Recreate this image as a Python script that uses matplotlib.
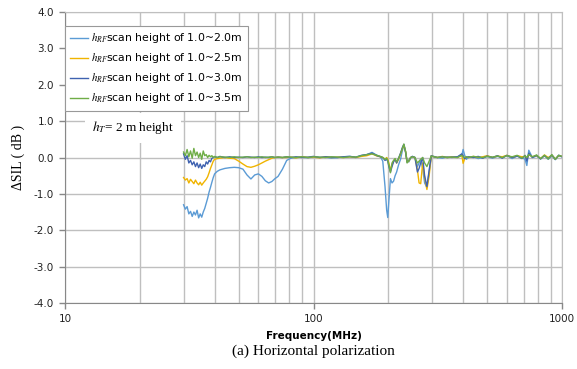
# Delta SIL vs frequency, horizontal polarization, four scan heights.
import matplotlib
matplotlib.use("Agg")
import matplotlib.pyplot as plt
from matplotlib.ticker import FixedLocator, NullFormatter

plt.rcParams['mathtext.fontset'] = 'stix'
plt.rcParams['font.family'] = 'DejaVu Sans'

freq = [30, 30.5, 31, 31.5, 32, 32.5, 33, 33.5, 34, 34.5,
        35, 35.5, 36, 36.5, 37, 37.5, 38, 38.5, 39, 39.5,
        40, 41, 42, 44, 46, 48, 50, 52, 54, 56,
        58, 60, 62, 64, 66, 68, 70, 72, 75, 78,
        81, 85, 90, 95, 100, 106, 112, 118, 125, 132,
        140, 148, 156, 164, 172, 180, 186, 190, 194, 197,
        199, 201, 204, 207, 210, 213, 216, 220, 224, 228,
        231, 235, 238, 242, 246, 250, 256, 262, 266, 270,
        275, 280, 286, 292, 298, 305, 315, 330, 345, 360,
        380, 395, 400, 405, 412, 420, 440, 460, 480, 500,
        525, 550, 575, 600, 630, 660, 690, 710, 722, 735,
        760, 790, 820, 850, 880, 910, 940, 970, 1000]

sil_20 = [-1.30, -1.42, -1.35, -1.55, -1.48, -1.62, -1.50, -1.58, -1.45, -1.66,
          -1.55, -1.64, -1.50, -1.40, -1.26, -1.12, -0.95, -0.82, -0.68, -0.55,
          -0.45, -0.38, -0.34, -0.30, -0.28, -0.27, -0.28, -0.32, -0.48, -0.59,
          -0.48, -0.45, -0.52, -0.64, -0.70, -0.66, -0.58, -0.52, -0.32, -0.08,
          -0.02, 0.00, 0.01, -0.01, 0.02, 0.00, 0.01, -0.02, 0.00, 0.02,
          0.03, 0.00, 0.05, 0.08, 0.14, 0.06, 0.02, -0.10, -0.80, -1.45,
          -1.65, -1.20, -0.58, -0.70, -0.65, -0.50, -0.40, -0.20, -0.05, 0.20,
          0.35, 0.15, -0.10, -0.12, -0.02, 0.03, 0.00, -0.25, -0.15, -0.05,
          -0.30, -0.70, -0.82, -0.40, 0.05, 0.03, 0.00, -0.02, 0.02, 0.00,
          0.02, 0.05, 0.22, 0.08, -0.05, 0.00, 0.02, -0.03, 0.00, 0.03,
          -0.02, 0.03, 0.00, 0.05, -0.03, 0.04, 0.00, -0.05, -0.22, 0.20,
          0.00, 0.04, -0.04, 0.06, -0.05, 0.05, -0.06, 0.06, 0.02]

sil_25 = [-0.55, -0.62, -0.58, -0.70, -0.60, -0.66, -0.72, -0.62, -0.70, -0.75,
          -0.68, -0.76, -0.70, -0.65, -0.60, -0.53, -0.42, -0.30, -0.20, -0.10,
          -0.05, -0.03, -0.02, 0.00, -0.02, -0.03, -0.10, -0.18, -0.25, -0.27,
          -0.24, -0.20, -0.15, -0.10, -0.06, -0.02, 0.00, 0.01, 0.00, 0.00,
          0.01, -0.01, 0.02, 0.00, 0.01, -0.01, 0.02, 0.00, 0.01, 0.00,
          0.02, 0.00, 0.03, 0.05, 0.10, 0.04, 0.02, 0.00, -0.05, 0.00,
          -0.05, -0.15, -0.35, -0.20, -0.10, -0.05, -0.15, -0.05, 0.10, 0.25,
          0.33, 0.15, -0.12, -0.10, 0.00, 0.02, 0.00, -0.35, -0.70, -0.72,
          -0.15, -0.55, -0.88, -0.50, 0.05, 0.02, 0.00, 0.03, 0.00, 0.02,
          0.00, 0.08, -0.16, -0.05, 0.02, 0.00, 0.03, 0.00, 0.02, 0.05,
          0.00, 0.04, 0.02, 0.06, 0.00, 0.05, 0.02, 0.03, -0.05, 0.08,
          0.02, 0.05, -0.03, 0.07, 0.00, 0.06, -0.04, 0.05, 0.03]

sil_30 = [0.10, -0.05, 0.05, -0.15, -0.08, -0.20, -0.12, -0.25, -0.15, -0.28,
          -0.18, -0.30, -0.20, -0.25, -0.12, -0.18, -0.08, -0.12, -0.02, 0.00,
          0.02, 0.00, 0.03, 0.00, 0.02, 0.00, 0.01, 0.00, 0.02, 0.01,
          0.00, 0.02, 0.00, 0.01, 0.00, 0.02, 0.00, 0.01, 0.00, 0.02,
          0.00, 0.02, 0.00, 0.01, 0.03, 0.00, 0.02, 0.01, 0.00, 0.02,
          0.03, 0.01, 0.06, 0.08, 0.12, 0.05, 0.02, 0.00, -0.08, -0.05,
          -0.10, -0.25, -0.40, -0.25, -0.12, -0.05, -0.15, -0.02, 0.12, 0.28,
          0.36, 0.12, -0.13, -0.08, 0.00, 0.03, 0.00, -0.40, -0.30, -0.15,
          0.00, -0.50, -0.80, -0.35, 0.05, 0.02, 0.00, 0.02, 0.00, 0.01,
          0.02, 0.10, 0.05, -0.03, 0.00, 0.02, 0.00, 0.03, -0.02, 0.04,
          0.00, 0.05, -0.02, 0.06, 0.00, 0.04, -0.03, 0.06, -0.10, 0.12,
          0.00, 0.06, -0.04, 0.05, -0.03, 0.07, -0.05, 0.06, 0.02]

sil_35 = [0.15, 0.05, 0.22, 0.02, 0.18, -0.02, 0.25, 0.05, 0.15, 0.00,
          0.12, -0.05, 0.18, 0.05, 0.08, 0.00, 0.06, 0.02, 0.05, 0.00,
          0.03, 0.00, 0.02, 0.01, 0.00, 0.02, 0.00, 0.01, 0.02, 0.00,
          0.01, 0.00, 0.02, 0.00, 0.01, 0.02, 0.00, 0.01, 0.00, 0.02,
          0.01, 0.00, 0.02, 0.00, 0.02, 0.01, 0.00, 0.02, 0.01, 0.00,
          0.02, 0.01, 0.05, 0.08, 0.10, 0.06, 0.03, 0.00, -0.05, -0.02,
          -0.08, -0.20, -0.42, -0.15, -0.08, -0.03, -0.12, -0.02, 0.10, 0.25,
          0.37, 0.15, -0.15, -0.08, 0.00, 0.02, 0.00, -0.15, -0.10, -0.05,
          0.00, -0.15, -0.25, -0.10, 0.04, 0.02, 0.00, 0.02, 0.00, 0.01,
          0.00, 0.06, 0.02, 0.00, 0.02, 0.00, 0.03, 0.01, 0.00, 0.03,
          0.01, 0.04, 0.00, 0.05, 0.02, 0.06, -0.02, 0.05, 0.00, 0.08,
          0.02, 0.07, -0.03, 0.06, -0.04, 0.08, -0.05, 0.06, 0.03]

series = [(sil_20, '#5B9BD5', '1.0~2.0m'),
          (sil_25, '#F0B400', '1.0~2.5m'),
          (sil_30, '#3F62B0', '1.0~3.0m'),
          (sil_35, '#6FAD47', '1.0~3.5m')]

grid_col = '#BFBFBF'

fig = plt.figure(figsize=(5.77, 3.69), dpi=100)
ax = fig.add_axes([65 / 577, 1 - 303 / 369, 497 / 577, 291 / 369])

for vals, col, lab in series:
    ax.plot(freq, vals, color=col, lw=1.0, label=r'$h_{RF}$scan height of ' + lab)

ax.set_xscale('log')
ax.set_xlim(10, 1000)
ax.set_ylim(-4, 4)
ax.set_yticks([-4, -3, -2, -1, 0, 1, 2, 3, 4])
ax.set_yticklabels(['%.1f' % v for v in [-4, -3, -2, -1, 0, 1, 2, 3, 4]])
ax.set_xticks([10, 100, 1000])
ax.set_xticklabels(['10', '100', '1000'])
ax.xaxis.set_minor_locator(FixedLocator([20, 30, 40, 50, 60, 70, 80, 90,
                                         200, 300, 400, 500, 600, 700, 800, 900]))
ax.xaxis.set_minor_formatter(NullFormatter())
ax.grid(True, which='both', axis='x', color=grid_col, lw=1.0)
ax.grid(True, which='major', axis='y', color=grid_col, lw=1.0)
ax.set_axisbelow(True)
ax.tick_params(axis='both', which='major', labelsize=7.5, color='#888888',
               length=4, width=1, pad=4, labelcolor='#222222')
ax.tick_params(axis='x', which='minor', length=0)
for sp in ax.spines.values():
    sp.set_color(grid_col)
ax.spines['left'].set_color('#888888')
ax.spines['bottom'].set_color('#888888')

ax.set_ylabel('ΔSIL ( dB )', fontfamily='Liberation Serif', fontsize=10, labelpad=6)
ax.set_xlabel('Frequency(MHz)', fontsize=7.5, fontweight='bold', labelpad=5)

leg = ax.legend(loc='upper left', bbox_to_anchor=(0, (303 - 26) / 291), borderaxespad=0,
                fontsize=7.8, frameon=True, fancybox=False, framealpha=1,
                edgecolor='#999999', handlelength=1.6, handletextpad=0.3,
                labelspacing=0.55, borderpad=0.5)
leg.get_frame().set_linewidth(0.8)

ax.text(27 / 497, (303 - 128) / 291, r'$h_T$= 2 m height', transform=ax.transAxes,
        fontfamily='Liberation Serif', fontsize=9.5, va='center', ha='left',
        bbox=dict(facecolor='white', edgecolor='none', pad=5))

fig.text(313.5 / 577, 1 - 351 / 369, '(a) Horizontal polarization',
         fontfamily='Liberation Serif', fontsize=11, ha='center', va='center')

fig.savefig('out.png', dpi=100)
